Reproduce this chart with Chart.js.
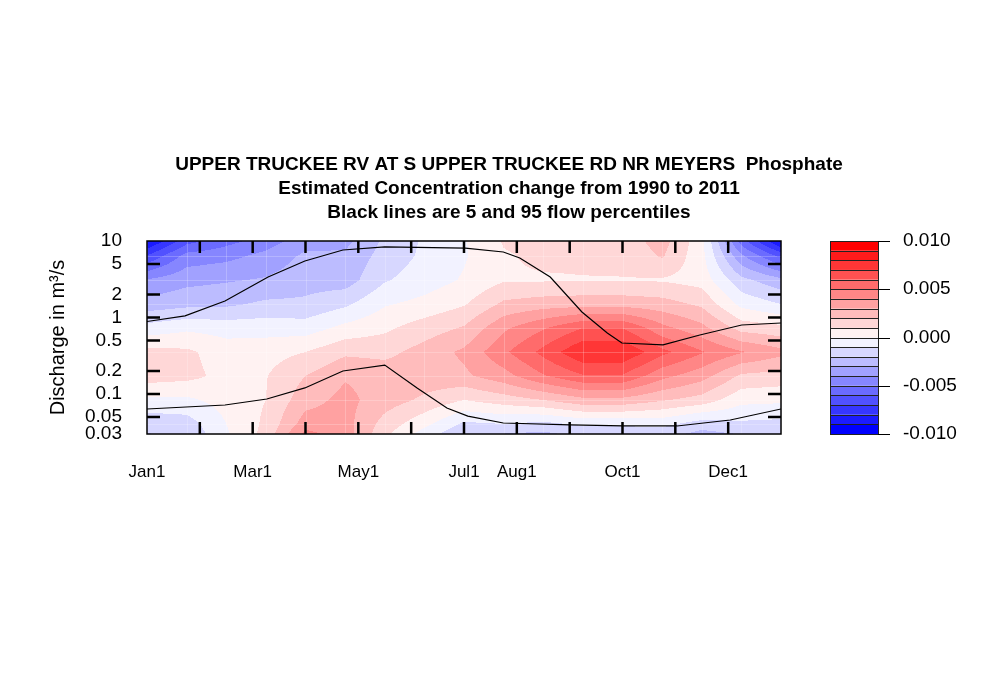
<!DOCTYPE html>
<html>
<head>
<meta charset="utf-8">
<script src="https://cdn.jsdelivr.net/npm/chart.js@4.4.1/dist/chart.umd.min.js"></script>
<style>
body{margin:0;background:#fff;}
#wrap{width:1000px;height:700px;}
</style>
</head>
<body>
<div id="wrap"><canvas id="chart" width="1000" height="700"></canvas></div>
<script>
const FONT = "'Liberation Sans', Arial, Helvetica, sans-serif";

const titleLines = ['UPPER TRUCKEE RV AT S UPPER TRUCKEE RD NR MEYERS  Phosphate',
	'Estimated Concentration change from 1990 to 2011',
	'Black lines are 5 and 95 flow percentiles'];

// grid of the surface: fraction of year (columns) and discharge (rows, m3/s)
const dayFrac = [0, 0.0625, 0.125, 0.1875, 0.25, 0.3125, 0.375, 0.4375, 0.5, 0.5625, 0.625, 0.6875, 0.75, 0.8125, 0.875, 0.9375, 1];
const flowLevels = [13.1, 6.37, 3.09, 1.5, 0.729, 0.354, 0.172, 0.0835, 0.0406, 0.0197];

// concentration change, one array per discharge level
const chg_13_1   = [-0.0105, -0.0075, -0.0060, -0.0050, -0.0038, -0.0036, -0.0019, -0.0009, -0.0001, 0.0012, 0.0014, 0.0014, 0.0016, 0.0026, 0.0004, -0.0065, -0.0110];
const chg_6_37   = [-0.0069, -0.0046, -0.0043, -0.0037, -0.0028, -0.0028, -0.0016, -0.0008, -0.0001, 0.0009, 0.0012, 0.0012, 0.0013, 0.0021, 0.0003, -0.0038, -0.0063];
const chg_3_09   = [-0.0039, -0.0033, -0.0031, -0.0029, -0.0024, -0.0025, -0.0011, -0.0005, 0.0001, 0.0009, 0.0009, 0.00095, 0.00095, 0.0009, 0.0006, -0.0017, -0.0027];
const chg_1_5    = [-0.0026, -0.0023, -0.0022, -0.0018, -0.0018, -0.0012, -0.0001, 0.0003, 0.0009, 0.0022, 0.0025, 0.0026, 0.0026, 0.0024, 0.0018, -0.0003, -0.0010];
const chg_0_729  = [-0.0006, -0.0002, -0.0004, -0.0004, -0.0005, 0.0003, 0.0008, 0.0015, 0.0021, 0.0038, 0.0049, 0.0060, 0.0060, 0.0043, 0.0033, 0.0016, 0.0013];
const chg_0_354  = [0.0013, 0.0012, 0.0005, 0.0006, 0.0010, 0.0018, 0.0017, 0.0024, 0.0032, 0.0048, 0.0063, 0.0079, 0.0079, 0.0063, 0.0051, 0.0041, 0.0033];
const chg_0_172  = [0.0015, 0.0013, 0.0007, 0.00095, 0.0020, 0.0029, 0.0026, 0.0026, 0.0028, 0.0036, 0.0049, 0.0059, 0.0059, 0.0043, 0.0034, 0.0018, 0.0016];
const chg_0_0835 = [-0.0002, -0.0002, 0.0004, 0.0010, 0.0026, 0.0033, 0.0025, 0.0018, 0.0010, 0.0015, 0.0020, 0.0027, 0.0027, 0.0021, 0.0016, 0.0003, 0.0002];
const chg_0_0406 = [-0.0017, -0.0015, 0.0000, 0.0012, 0.0035, 0.0034, 0.0016, 0.0003, -0.0012, -0.0010, -0.0013, -0.0008, -0.0008, -0.0007, -0.0015, -0.0012, -0.0013];
const chg_0_0197 = [-0.0025, -0.0023, -0.0003, 0.0015, 0.0055, 0.0036, 0.0008, -0.0015, -0.0030, -0.0035, -0.0035, -0.0030, -0.0030, -0.0028, -0.0035, -0.0030, -0.0030];
const changeGrid = [chg_13_1, chg_6_37, chg_3_09, chg_1_5, chg_0_729, chg_0_354, chg_0_172, chg_0_0835, chg_0_0406, chg_0_0197];

const levels = [-0.010, -0.009, -0.008, -0.007, -0.006, -0.005, -0.004, -0.003, -0.002, -0.001, 0,
	0.001, 0.002, 0.003, 0.004, 0.005, 0.006, 0.007, 0.008, 0.009, 0.010];

// 95 and 5 percentile flow lines
const q95Frac = [0, 0.060, 0.123, 0.191, 0.249, 0.309, 0.375, 0.502, 0.562, 0.588, 0.636, 0.686, 0.726, 0.749, 0.814, 0.872, 0.938, 1];
const q95Flow = [0.887, 1.05, 1.64, 3.38, 5.48, 7.63, 8.36, 8.09, 7.18, 6.0, 3.38, 1.18, 0.627, 0.464, 0.438, 0.59, 0.798, 0.848];
const q05Frac = [0, 0.123, 0.189, 0.249, 0.309, 0.375, 0.426, 0.473, 0.506, 0.562, 0.667, 0.751, 0.836, 0.920, 1];
const q05Flow = [0.0637, 0.0718, 0.0861, 0.120, 0.200, 0.239, 0.120, 0.0656, 0.0515, 0.0418, 0.0394, 0.0382, 0.0382, 0.0457, 0.0637];

// axis ticks
const monthFrac = [0, 0.0833, 0.1667, 0.25, 0.3333, 0.4167, 0.5, 0.5833, 0.6667, 0.75, 0.8333, 0.9167];
const monthLabels = ['Jan1', '', 'Mar1', '', 'May1', '', 'Jul1', 'Aug1', '', 'Oct1', '', 'Dec1'];
const flowTicks = [0.03, 0.05, 0.1, 0.2, 0.5, 1, 2, 5, 10];
const flowTickLabels = ['0.03', '0.05', '0.1', '0.2', '0.5', '1', '2', '5', '10'];
const legendTicks = [-0.01, -0.005, 0, 0.005, 0.01];
const legendTickLabels = ['-0.010', '-0.005', '0.000', '0.005', '0.010'];

function levelColor(i){
	// blue - white - red ramp over the 20 intervals
	const t = i/19;
	if (t < 0.5){
		const f = 2*t;
		return [Math.round(255*f), Math.round(255*f), 255];
	}
	const f = 2*t - 1;
	return [255, Math.round(255*(1-f)), Math.round(255*(1-f))];
}
function levelIndex(v){
	let idx = 0;
	while (idx < levels.length-2 && v >= levels[idx+1]) idx++;
	return idx;
}

const contourPlugin = {
	id: 'contour',
	beforeDatasetsDraw(chart){
		const {ctx, chartArea: a, scales: {x, y}} = chart;
		const left = Math.round(a.left), top = Math.round(a.top);
		const w = Math.round(a.right) - left, h = Math.round(a.bottom) - top;
		const img = ctx.createImageData(w, h);
		const logRows = flowLevels.map(v => Math.log10(v));
		const colI = [], colT = [];
		for (let px = 0; px < w; px++){
			const xv = x.getValueForPixel(left + px + 0.5);
			let i = 0;
			while (i < dayFrac.length-2 && xv > dayFrac[i+1]) i++;
			colI.push(i);
			colT.push((xv - dayFrac[i])/(dayFrac[i+1] - dayFrac[i]));
		}
		for (let py = 0; py < h; py++){
			const lv = Math.log10(y.getValueForPixel(top + py + 0.5));
			let j = 0;
			while (j < logRows.length-2 && lv < logRows[j+1]) j++;
			const u = (logRows[j] - lv)/(logRows[j] - logRows[j+1]);
			const r0 = changeGrid[j], r1 = changeGrid[j+1];
			for (let px = 0; px < w; px++){
				const i = colI[px], t = colT[px];
				const a0 = r0[i] + (r0[i+1] - r0[i])*t;
				const a1 = r1[i] + (r1[i+1] - r1[i])*t;
				const v = a0 + (a1 - a0)*u;
				const c = levelColor(levelIndex(v));
				const k = (py*w + px)*4;
				img.data[k] = c[0]; img.data[k+1] = c[1]; img.data[k+2] = c[2]; img.data[k+3] = 255;
			}
		}
		const off = document.createElement('canvas');
		off.width = w; off.height = h;
		off.getContext('2d').putImageData(img, 0, 0);
		ctx.drawImage(off, left, top);

		// faint seams of the surface grid
		ctx.save();
		ctx.strokeStyle = 'rgba(255,255,255,0.22)';
		ctx.lineWidth = 1;
		ctx.beginPath();
		dayFrac.forEach(d => {
			const px = Math.round(x.getPixelForValue(d)) + 0.5;
			ctx.moveTo(px, a.top); ctx.lineTo(px, a.bottom);
		});
		flowLevels.forEach(q => {
			const py = Math.round(y.getPixelForValue(q)) + 0.5;
			if (py > a.top && py < a.bottom){ ctx.moveTo(a.left, py); ctx.lineTo(a.right, py); }
		});
		ctx.stroke();
		ctx.restore();
	},
	afterDraw(chart){
		const {ctx, chartArea: a, scales: {x, y, cb}} = chart;
		ctx.save();
		ctx.strokeStyle = '#000';
		// inward ticks
		ctx.lineWidth = 2.5;
		ctx.beginPath();
		monthFrac.slice(1).forEach(m => {
			const px = x.getPixelForValue(m);
			ctx.moveTo(px, a.bottom); ctx.lineTo(px, a.bottom - 12);
			ctx.moveTo(px, a.top); ctx.lineTo(px, a.top + 12);
		});
		flowTicks.slice(1, -1).forEach(q => {
			const py = y.getPixelForValue(q);
			ctx.moveTo(a.left, py); ctx.lineTo(a.left + 13, py);
			ctx.moveTo(a.right, py); ctx.lineTo(a.right - 13, py);
		});
		ctx.stroke();
		// frame
		ctx.lineWidth = 1.5;
		ctx.strokeRect(a.left, a.top, a.right - a.left, a.bottom - a.top);

		// colour key
		const kx0 = 830, kx1 = 878;
		ctx.lineWidth = 1;
		for (let k = 0; k < levels.length-1; k++){
			const yb = cb.getPixelForValue(levels[k]);
			const yt = cb.getPixelForValue(levels[k+1]);
			const c = levelColor(k);
			ctx.fillStyle = 'rgb(' + c.join(',') + ')';
			ctx.fillRect(kx0, yt, kx1 - kx0, yb - yt);
			ctx.strokeStyle = '#222';
			ctx.strokeRect(kx0 + 0.5, Math.round(yt) + 0.5, kx1 - kx0, Math.round(yb) - Math.round(yt));
		}
		ctx.strokeStyle = '#000';
		ctx.beginPath();
		legendTicks.forEach(v => {
			const py = Math.round(cb.getPixelForValue(v)) + 0.5;
			ctx.moveTo(kx1, py); ctx.lineTo(kx1 + 12, py);
		});
		ctx.stroke();
		ctx.restore();
	}
};

const chart = new Chart(document.getElementById('chart'), {
	type: 'scatter',
	data: {
		datasets: [
			{label: '95 percentile', data: q95Frac.map((f, i) => ({x: f, y: q95Flow[i]})), showLine: true,
				borderColor: '#000', borderWidth: 1.2, pointRadius: 0, tension: 0},
			{label: '5 percentile', data: q05Frac.map((f, i) => ({x: f, y: q05Flow[i]})), showLine: true,
				borderColor: '#000', borderWidth: 1.2, pointRadius: 0, tension: 0}
		]
	},
	options: {
		responsive: false,
		animation: false,
		layout: {padding: {left: 18, top: 135, right: 0, bottom: 0}},
		plugins: {
			legend: {display: false},
			tooltip: {enabled: false},
			title: {display: true, text: titleLines, color: '#000',
				font: {family: FONT, size: 19, weight: 'bold', lineHeight: '24px'},
				padding: {top: 18, bottom: 16}}
		},
		scales: {
			x: {type: 'linear', min: 0, max: 1, position: 'bottom',
				grid: {display: false, drawTicks: false}, border: {display: false},
				afterBuildTicks: s => { s.ticks = monthFrac.map(v => ({value: v})); },
				afterFit: s => { s.height = 266; },
				ticks: {autoSkip: false, maxRotation: 0, padding: 28, color: '#000',
					font: {family: FONT, size: 17}, callback: (v, i) => monthLabels[i]}},
			y: {type: 'logarithmic', min: 0.03, max: 10, position: 'left',
				grid: {display: false, drawTicks: false}, border: {display: false},
				afterBuildTicks: s => { s.ticks = flowTicks.map(v => ({value: v})); },
				afterFit: s => { s.width = 129; },
				title: {display: true, text: 'Discharge in m³/s', color: '#000',
					font: {family: FONT, size: 20}, padding: {top: 28, bottom: 0}},
				ticks: {autoSkip: false, padding: 25, color: '#000',
					font: {family: FONT, size: 19}, callback: (v, i) => flowTickLabels[i]}},
			cb: {type: 'linear', min: -0.01, max: 0.01, position: 'right',
				grid: {display: false, drawTicks: false}, border: {display: false},
				afterBuildTicks: s => { s.ticks = legendTicks.map(v => ({value: v})); },
				afterFit: s => { s.width = 219; },
				ticks: {autoSkip: false, padding: 122, color: '#000',
					font: {family: FONT, size: 19}, callback: (v, i) => legendTickLabels[i]}}
		}
	},
	plugins: [contourPlugin]
});
</script>
</body>
</html>
